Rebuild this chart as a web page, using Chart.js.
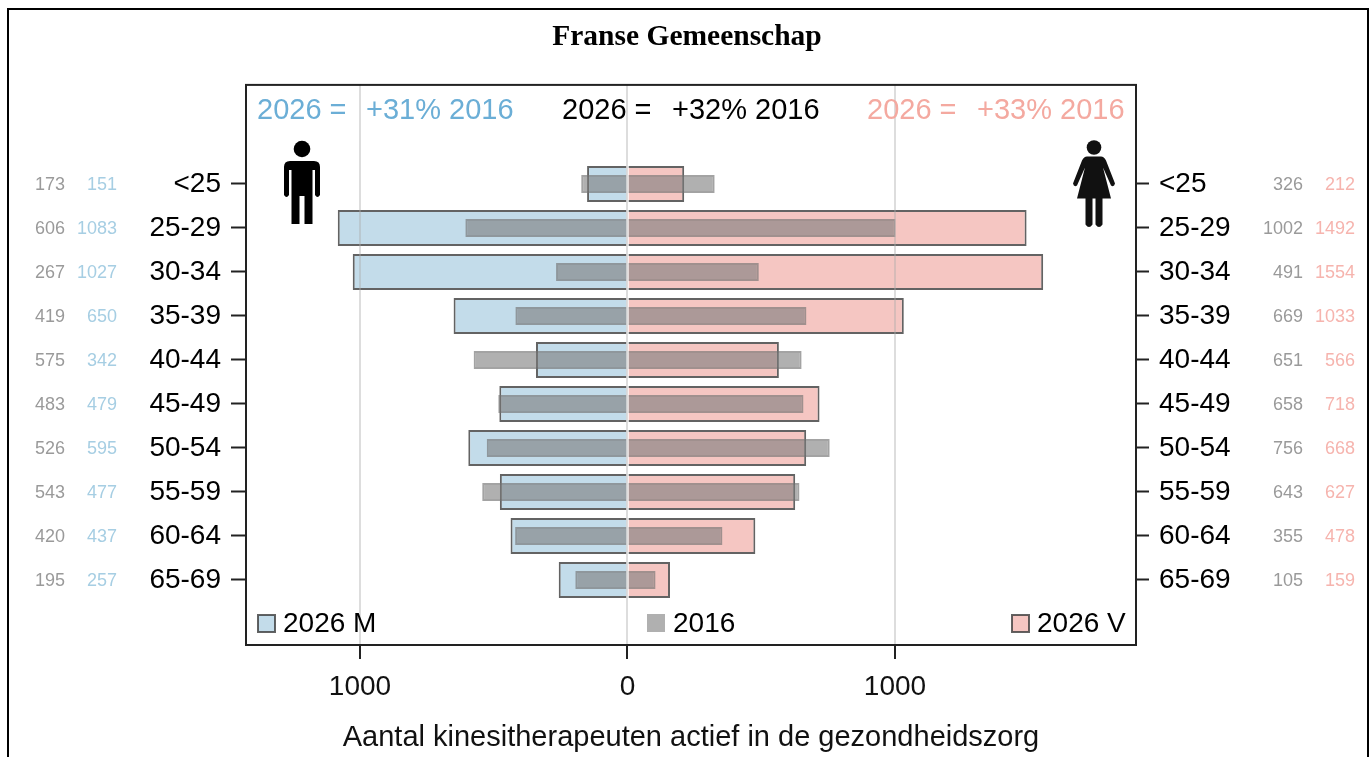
<!DOCTYPE html>
<html><head><meta charset="utf-8">
<style>
html,body{margin:0;padding:0;background:#fff;overflow:hidden}
#wrap{position:relative;width:1371px;height:757px}
#frame{position:absolute;left:7px;top:8px;width:1358px;height:760px;border:2px solid #000;box-sizing:content-box}
canvas{position:absolute;left:0;top:0}
</style>
<script src="https://cdn.jsdelivr.net/npm/chart.js@4"></script>
</head><body><div id="wrap"><div id="frame"></div><canvas id="c" width="1371" height="757"></canvas></div>
<script>
const titleText = 'Franse Gemeenschap';
const axisTitle = 'Aantal kinesitherapeuten actief in de gezondheidszorg';
const ageGroups = ['<25','25-29','30-34','35-39','40-44','45-49','50-54','55-59','60-64','65-69'];
const men2026 = [151,1083,1027,650,342,479,595,477,437,257];
const men2016 = [173,606,267,419,575,483,526,543,420,195];
const women2026 = [212,1492,1554,1033,566,718,668,627,478,159];
const women2016 = [326,1002,491,669,651,658,756,643,355,105];
const xTicks = [-1000,0,1000];
const growthLeft = ['2026 =','+31% 2016'];
const growthMid = ['2026 =','+32% 2016'];
const growthRight = ['2026 =','+33% 2016'];

const BLUE_FILL='#c3dcea', PINK_FILL='#f5c6c2', BAR_EDGE='rgba(60,60,60,0.8)';
const GREY_FILL='rgba(123,123,123,0.6)', GREY_EDGE='rgba(115,115,115,0.66)';
const HEAD_BLUE='#6baed6', HEAD_PINK='#f4a9a0', NUM_GREY='#9a9a9a', NUM_BLUE='#a6cee3', NUM_PINK='#f6b4ae';
const SANS='"Liberation Sans", Arial, sans-serif';
const toPts=(arr,sign)=>arr.map((v,i)=>({x:sign*v,y:i}));

function drawMan(ctx,cx,top){
  ctx.fillStyle='#000';
  ctx.beginPath();ctx.arc(cx,top+8,8.3,0,Math.PI*2);ctx.fill();
  ctx.beginPath();
  ctx.moveTo(cx-12,top+20);
  ctx.lineTo(cx+12,top+20);
  ctx.quadraticCurveTo(cx+18,top+20,cx+18,top+26);
  ctx.lineTo(cx+18,top+54);
  ctx.quadraticCurveTo(cx+15.5,top+58,cx+13,top+54);
  ctx.lineTo(cx+13,top+29);
  ctx.lineTo(cx+10.5,top+29);
  ctx.lineTo(cx+10.5,top+83);
  ctx.lineTo(cx+2.5,top+83);
  ctx.lineTo(cx+2.5,top+55);
  ctx.lineTo(cx-2.5,top+55);
  ctx.lineTo(cx-2.5,top+83);
  ctx.lineTo(cx-10.5,top+83);
  ctx.lineTo(cx-10.5,top+29);
  ctx.lineTo(cx-13,top+29);
  ctx.lineTo(cx-13,top+54);
  ctx.quadraticCurveTo(cx-15.5,top+58,cx-18,top+54);
  ctx.lineTo(cx-18,top+26);
  ctx.quadraticCurveTo(cx-18,top+20,cx-12,top+20);
  ctx.closePath();ctx.fill();
}
function drawWoman(ctx,cx,top){
  ctx.fillStyle='#111';
  ctx.beginPath();ctx.arc(cx,top+7,7.3,0,Math.PI*2);ctx.fill();
  ctx.beginPath();
  ctx.moveTo(cx-7,top+16);
  ctx.lineTo(cx+7,top+16);
  ctx.quadraticCurveTo(cx+10,top+16,cx+12,top+20);
  ctx.lineTo(cx+21,top+43);
  ctx.quadraticCurveTo(cx+20,top+47,cx+17,top+45);
  ctx.lineTo(cx+9,top+27);
  ctx.lineTo(cx+17,top+58);
  ctx.lineTo(cx+8.5,top+58);
  ctx.lineTo(cx+8.5,top+84);
  ctx.quadraticCurveTo(cx+5,top+89,cx+1.5,top+84);
  ctx.lineTo(cx+1.5,top+58);
  ctx.lineTo(cx-1.5,top+58);
  ctx.lineTo(cx-1.5,top+84);
  ctx.quadraticCurveTo(cx-5,top+89,cx-8.5,top+84);
  ctx.lineTo(cx-8.5,top+58);
  ctx.lineTo(cx-17,top+58);
  ctx.lineTo(cx-9,top+27);
  ctx.lineTo(cx-17,top+45);
  ctx.quadraticCurveTo(cx-20,top+47,cx-21,top+43);
  ctx.lineTo(cx-12,top+20);
  ctx.quadraticCurveTo(cx-10,top+16,cx-7,top+16);
  ctx.closePath();ctx.fill();
}

const decor={
  id:'decor',
  afterDraw(chart){
    const {ctx,chartArea:a,scales}=chart, y=scales.y;
    ctx.save();
    ctx.strokeStyle='#222';ctx.lineWidth=2;
    ctx.strokeRect(a.left,a.top,a.right-a.left,a.bottom-a.top);
    ctx.font='18px '+SANS;ctx.textAlign='right';ctx.textBaseline='middle';
    ageGroups.forEach((g,i)=>{
      const py=y.getPixelForValue(i)+1;
      ctx.fillStyle=NUM_GREY;ctx.fillText(String(men2016[i]),65,py);
      ctx.fillStyle=NUM_BLUE;ctx.fillText(String(men2026[i]),117,py);
      ctx.fillStyle=NUM_GREY;ctx.fillText(String(women2016[i]),1303,py);
      ctx.fillStyle=NUM_PINK;ctx.fillText(String(women2026[i]),1355,py);
    });
    ctx.font='29px '+SANS;ctx.textAlign='left';
    const hy=111;
    ctx.fillStyle=HEAD_BLUE;ctx.fillText(growthLeft[0],257,hy);ctx.fillText(growthLeft[1],366,hy);
    ctx.fillStyle='#000';ctx.fillText(growthMid[0],562,hy);ctx.fillText(growthMid[1],672,hy);
    ctx.fillStyle=HEAD_PINK;ctx.fillText(growthRight[0],867,hy);ctx.fillText(growthRight[1],977,hy);
    ctx.font='28px '+SANS;
    const ly=624.5;
    ctx.fillStyle='#000';
    ctx.fillText('2026 M',283,ly);ctx.fillText('2016',673,ly);ctx.fillText('2026 V',1037,ly);
    ctx.lineWidth=2;
    ctx.fillStyle=BLUE_FILL;ctx.strokeStyle=BAR_EDGE;ctx.fillRect(258,615,17,17);ctx.strokeRect(258,615,17,17);
    ctx.fillStyle=PINK_FILL;ctx.fillRect(1012,615,17,17);ctx.strokeRect(1012,615,17,17);
    ctx.fillStyle=GREY_FILL;ctx.fillRect(647,614,18,18);
    drawMan(ctx,302,141);
    drawWoman(ctx,1094,140.5);
    ctx.restore();
  }
};

const bar2026={barThickness:36,borderWidth:2,borderSkipped:'start',inflateAmount:0,borderColor:BAR_EDGE};
const bar2016={barThickness:18,borderWidth:2,borderSkipped:'start',inflateAmount:0,backgroundColor:GREY_FILL,borderColor:GREY_EDGE};

const catTicks=s=>{s.ticks=ageGroups.map((_,i)=>({value:i}));};
new Chart(document.getElementById('c'),{
  type:'bar',
  data:{datasets:[
    {label:'2016 M',data:toPts(men2016,-1),...bar2016},
    {label:'2016 V',data:toPts(women2016,1),...bar2016},
    {label:'2026 M',data:toPts(men2026,-1),backgroundColor:BLUE_FILL,...bar2026},
    {label:'2026 V',data:toPts(women2026,1),backgroundColor:PINK_FILL,...bar2026}
  ]},
  options:{
    indexAxis:'y',responsive:false,animation:false,devicePixelRatio:1,
    layout:{padding:{left:3}},
    datasets:{bar:{grouped:false}},
    plugins:{
      legend:{display:false},tooltip:{enabled:false},
      title:{display:true,text:titleText,color:'#000',font:{family:'"Liberation Serif", serif',size:29.5,weight:'bold'},padding:{top:19.5,bottom:30}}
    },
    scales:{
      x:{type:'linear',min:-1426,max:1901,
        afterBuildTicks:s=>{s.ticks=xTicks.map(v=>({value:v}));},
        afterFit:s=>{s.height=112;},
        grid:{z:1,color:'rgba(170,170,170,0.4)',lineWidth:2,tickColor:'#222',tickLength:14,tickWidth:2},
        border:{display:false},
        ticks:{autoSkip:false,maxRotation:0,padding:11,color:'#111',font:{family:SANS,size:28},callback:v=>String(Math.abs(v))},
        title:{display:true,text:axisTitle,color:'#111',font:{family:SANS,size:29},padding:{top:0,bottom:2}}
      },
      y:{type:'linear',position:'left',reverse:true,min:-2.25,max:10.477,offset:false,
        afterBuildTicks:catTicks,
        afterFit:s=>{s.width=243;},
        grid:{offset:false,drawOnChartArea:false,tickColor:'#222',tickLength:15,tickWidth:2},
        border:{display:false},
        ticks:{autoSkip:false,padding:10,color:'#000',font:{family:SANS,size:28},callback:v=>ageGroups[v]}
      },
      y2:{type:'linear',position:'right',reverse:true,min:-2.25,max:10.477,offset:false,
        afterBuildTicks:catTicks,
        afterFit:s=>{s.width=235;},
        grid:{offset:false,drawOnChartArea:false,tickColor:'#222',tickLength:13,tickWidth:2},
        border:{display:false},
        ticks:{autoSkip:false,padding:10,color:'#000',font:{family:SANS,size:28},callback:v=>ageGroups[v]}
      }
    }
  },
  plugins:[decor]
});
</script></body></html>
